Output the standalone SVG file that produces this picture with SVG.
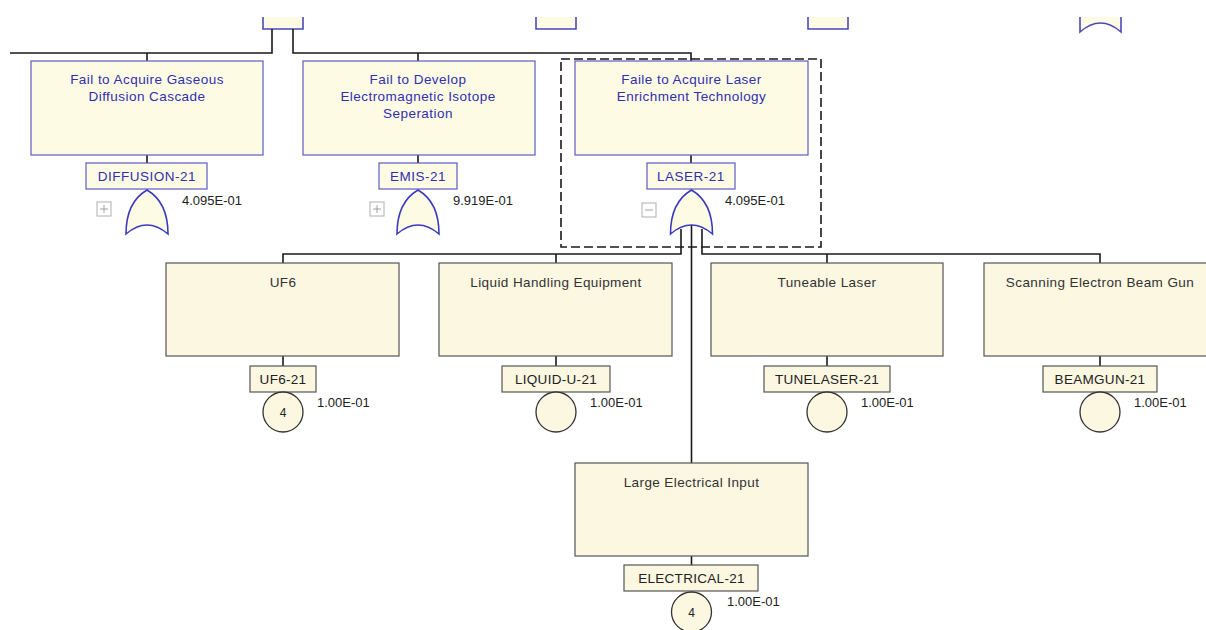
<svg xmlns="http://www.w3.org/2000/svg" width="1206" height="630" viewBox="0 0 1206 630">
<style>
.bg{fill:#ffffff}
.tnode{fill:#fefbe5;stroke:#5c5cc4;stroke-width:1.2}
.bnode{fill:#fbf7e1;stroke:#555555;stroke-width:1.2}
.tlab{fill:#fefbe5;stroke:#5c5cc4;stroke-width:1.2}
.blab{fill:#fbf7e1;stroke:#555555;stroke-width:1.2}
.ttxt{font-family:"Liberation Sans",Arial,sans-serif;font-size:13.5px;fill:#2f2fb0;text-anchor:middle;letter-spacing:0.45px}
.btxt{font-family:"Liberation Sans",Arial,sans-serif;font-size:13.5px;fill:#333333;text-anchor:middle;letter-spacing:0.4px}
.tl{font-family:"Liberation Sans",Arial,sans-serif;font-size:13.5px;fill:#2f2fb0;text-anchor:middle;letter-spacing:0.5px}
.bl{font-family:"Liberation Sans",Arial,sans-serif;font-size:13.5px;fill:#222222;text-anchor:middle;letter-spacing:0.3px}
.val{font-family:"Liberation Sans",Arial,sans-serif;font-size:13px;fill:#222222}
.num{font-family:"Liberation Sans",Arial,sans-serif;font-size:12px;fill:#222222;text-anchor:middle}
.gate{fill:#fefbe5;stroke:#3a3ac0;stroke-width:1.6}
.ev{fill:#fbf7e1;stroke:#333333;stroke-width:1.3}
.exp{fill:#ffffff;stroke:#b0b0b0;stroke-width:1}
.expl{stroke:#a0a0a0;stroke-width:1;fill:none}
.wire{fill:none;stroke:#1a1a1a;stroke-width:1.6}
.dash{fill:none;stroke:#1a1a1a;stroke-width:1.6;stroke-dasharray:9,4}
</style>
<rect class="bg" x="0" y="0" width="1206" height="630"/>

<g id="top-partials">
  <path d="M263,17 V29 H303 V17" fill="#fefbe5" stroke="#4a4ab8" stroke-width="1.6"/>
  <path d="M536,17 V29 H576 V17" fill="#fefbe5" stroke="#4a4ab8" stroke-width="1.6"/>
  <path d="M808,17 V29 H848 V17" fill="#fefbe5" stroke="#4a4ab8" stroke-width="1.6"/>
  <path d="M1080,17 V32 Q1100.5,14 1121,32 V17" fill="#fefbe5" stroke="#4a4ab8" stroke-width="1.6"/>
</g>

<g id="connectors">
  <path class="wire" d="M272,29 V53 H10"/>
  <path class="wire" d="M147,53 V61"/>
  <path class="wire" d="M293,29 V53 H691 V61"/>
  <path class="wire" d="M418,53 V61"/>
  <path class="wire" d="M147,155 V163"/>
  <path class="wire" d="M418,155 V163"/>
  <path class="wire" d="M691,155 V163"/>
  <path class="wire" d="M681,229 V254 H283 V263"/>
  <path class="wire" d="M556,254 V263"/>
  <path class="wire" d="M702,229 V254 H1100 V263"/>
  <path class="wire" d="M827,254 V263"/>
  <path class="wire" d="M691.5,225 V463"/>
  <path class="wire" d="M283,356 V366"/>
  <path class="wire" d="M556,356 V366"/>
  <path class="wire" d="M827,356 V366"/>
  <path class="wire" d="M1100,356 V366"/>
  <path class="wire" d="M691.5,556 V565"/>
</g>

<rect id="selection" class="dash" x="561" y="59" width="260" height="188"/>

<g id="node-diffusion">
  <rect class="tnode" x="31" y="61" width="232" height="94"/>
  <text class="ttxt" x="147" y="84">Fail to Acquire Gaseous</text>
  <text class="ttxt" x="147" y="101">Diffusion Cascade</text>
  <rect class="tlab" x="86" y="163" width="121" height="26"/>
  <text class="tl" x="147" y="181">DIFFUSION-21</text>
  <path class="gate" d="M147,190 C159,197 168,210 168,234 Q147,216 126,234 C126,210 135,197 147,190 Z"/>
  <rect class="exp" x="97" y="202" width="14" height="14"/>
  <path class="expl" d="M100,209 H108 M104,205 V213"/>
  <text class="val" x="182" y="205">4.095E-01</text>
</g>

<g id="node-emis">
  <rect class="tnode" x="303" y="61" width="232" height="94"/>
  <text class="ttxt" x="418" y="84">Fail to Develop</text>
  <text class="ttxt" x="418" y="101">Electromagnetic Isotope</text>
  <text class="ttxt" x="418" y="118">Seperation</text>
  <rect class="tlab" x="379" y="163" width="78" height="26"/>
  <text class="tl" x="418" y="181">EMIS-21</text>
  <path class="gate" d="M418,190 C430,197 439,210 439,234 Q418,216 397,234 C397,210 406,197 418,190 Z"/>
  <rect class="exp" x="370" y="202" width="14" height="14"/>
  <path class="expl" d="M373,209 H381 M377,205 V213"/>
  <text class="val" x="453" y="205">9.919E-01</text>
</g>

<g id="node-laser">
  <rect class="tnode" x="575" y="61" width="233" height="94"/>
  <text class="ttxt" x="691.5" y="84">Faile to Acquire Laser</text>
  <text class="ttxt" x="691.5" y="101">Enrichment Technology</text>
  <rect class="tlab" x="647" y="163" width="88" height="26"/>
  <text class="tl" x="691" y="181">LASER-21</text>
  <path class="gate" d="M691.5,190 C703.5,197 712.5,210 712.5,234 Q691.5,216 670.5,234 C670.5,210 679.5,197 691.5,190 Z"/>
  <rect class="exp" x="642" y="203" width="14" height="14"/>
  <path class="expl" d="M645,210 H653"/>
  <text class="val" x="725" y="205">4.095E-01</text>
</g>

<g id="node-uf6">
  <rect class="bnode" x="166" y="263" width="233" height="93"/>
  <text class="btxt" x="283" y="287">UF6</text>
  <rect class="blab" x="250" y="366" width="66" height="26"/>
  <text class="bl" x="283" y="384">UF6-21</text>
  <circle class="ev" cx="283" cy="412" r="20"/>
  <text class="num" x="283" y="417">4</text>
  <text class="val" x="317" y="407">1.00E-01</text>
</g>

<g id="node-liquid">
  <rect class="bnode" x="439" y="263" width="233" height="93"/>
  <text class="btxt" x="556" y="287">Liquid Handling Equipment</text>
  <rect class="blab" x="502" y="366" width="108" height="26"/>
  <text class="bl" x="556" y="384">LIQUID-U-21</text>
  <circle class="ev" cx="556" cy="412" r="20"/>
  <text class="val" x="590" y="407">1.00E-01</text>
</g>

<g id="node-tunelaser">
  <rect class="bnode" x="711" y="263" width="232" height="93"/>
  <text class="btxt" x="827" y="287">Tuneable Laser</text>
  <rect class="blab" x="764" y="366" width="126" height="26"/>
  <text class="bl" x="827" y="384">TUNELASER-21</text>
  <circle class="ev" cx="827" cy="412" r="20"/>
  <text class="val" x="861" y="407">1.00E-01</text>
</g>

<g id="node-beamgun">
  <rect class="bnode" x="984" y="263" width="232" height="93"/>
  <text class="btxt" x="1100" y="287">Scanning Electron Beam Gun</text>
  <rect class="blab" x="1043" y="366" width="114" height="26"/>
  <text class="bl" x="1100" y="384">BEAMGUN-21</text>
  <circle class="ev" cx="1100" cy="412" r="20"/>
  <text class="val" x="1134" y="407">1.00E-01</text>
</g>

<g id="node-electrical">
  <rect class="bnode" x="575" y="463" width="233" height="93"/>
  <text class="btxt" x="691.5" y="487">Large Electrical Input</text>
  <rect class="blab" x="624" y="565" width="134" height="26"/>
  <text class="bl" x="691.5" y="583">ELECTRICAL-21</text>
  <circle class="ev" cx="691.5" cy="612" r="20"/>
  <text class="num" x="691.5" y="617">4</text>
  <text class="val" x="727" y="606">1.00E-01</text>
</g>
</svg>
